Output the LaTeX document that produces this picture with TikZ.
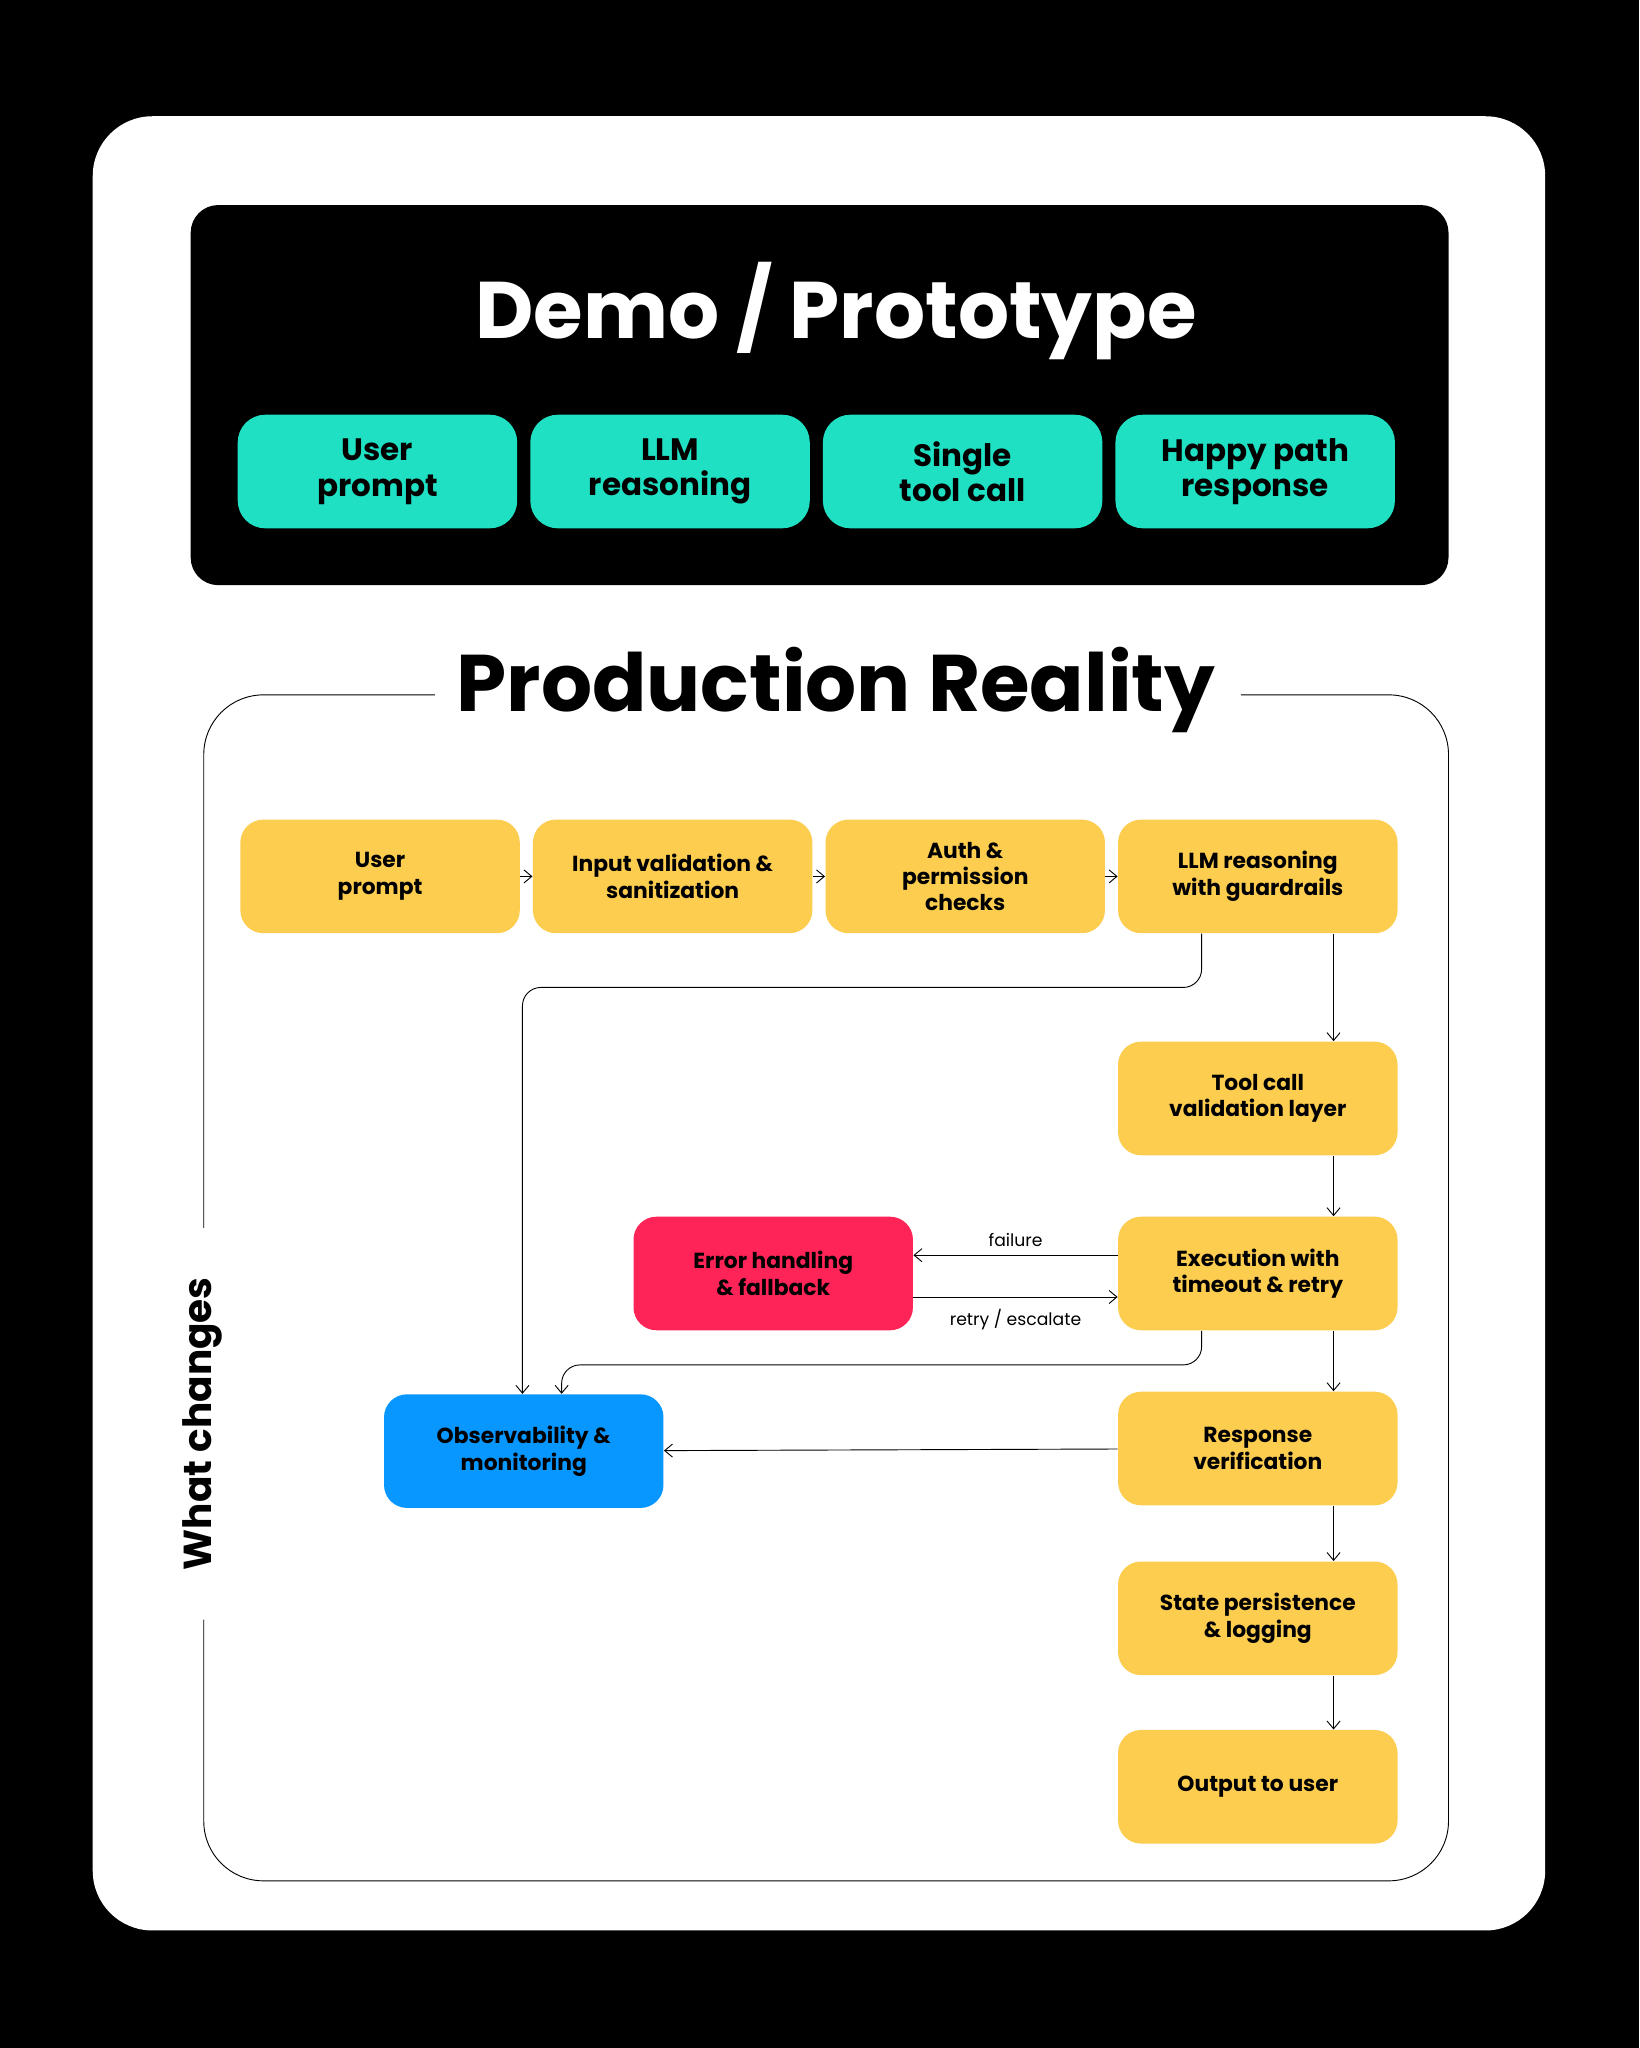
\documentclass[tikz,border=0pt]{standalone}
\usepackage{fontspec}
\setmainfont{Poppins}
\usetikzlibrary{arrows.meta}
\definecolor{mint}{HTML}{1FE0C3}
\definecolor{amber}{HTML}{FCCD4F}
\definecolor{alert}{HTML}{FF2458}
\definecolor{azure}{HTML}{0896FF}
\begin{document}
\begin{tikzpicture}[x=0.02cm, y=-0.02cm,
    demo/.style={rectangle, rounded corners=12pt, fill=mint, minimum width=4.28cm, minimum height=1.74cm, align=center, font=\fontsize{13.5}{15.5}\selectfont\bfseries},
    stage/.style={rectangle, rounded corners=10pt, fill=amber, minimum width=4.28cm, minimum height=1.74cm, align=center, font=\fontsize{9.5}{11.5}\selectfont\bfseries},
    arrow/.style={-{Straight Barb[length=1.2mm,width=2mm]}, thin},
    tag/.style={font=\fontsize{7.5}{9}\selectfont}
]
    % Frames
    \fill[black] (0,0) rectangle (1255,1568);
    \fill[white, rounded corners=26pt] (71,89) rectangle (1183,1478);
    \fill[black, rounded corners=12pt] (146,157) rectangle (1109,448);
    \node[font=\fontsize{35}{40}\selectfont\bfseries, text=white] (demotitle) at (640,238) {Demo / Prototype};

    % Demo row
    \node[demo] (d1) at (289,361) {User\\prompt};
    \node[demo] (d2) at (513,361) {LLM\\reasoning};
    \node[demo] (d3) at (737,361) {Single\\tool call};
    \node[demo] (d4) at (961,361) {Happy path\\response};

    % Production frame
    \draw[thin, rounded corners=26pt] (333,532) -- (156,532) -- (156,940);
    \draw[thin, rounded corners=26pt] (156,1240) -- (156,1440) -- (1109,1440) -- (1109,532) -- (950,532);
    \node[font=\fontsize{35}{40}\selectfont\bfseries] (prodtitle) at (640,528) {Production Reality};
    \node[font=\fontsize{17}{20}\selectfont\bfseries, rotate=90] (changes) at (155,1090) {What changes};

    % Top row
    \node[stage] (user) at (291,671) {User\\prompt};
    \node[stage] (input) at (515,671) {Input validation \&\\sanitization};
    \node[stage] (auth) at (739,671) {Auth \&\\permission\\checks};
    \node[stage] (llm) at (963,671) {LLM reasoning\\with guardrails};

    % Right column
    \node[stage] (tool) at (963,841) {Tool call\\validation layer};
    \node[stage] (exec) at (963,975) {Execution with\\timeout \& retry};
    \node[stage] (resp) at (963,1109) {Response\\verification};
    \node[stage] (state) at (963,1239) {State persistence\\\& logging};
    \node[stage] (out) at (963,1368) {Output to user};

    % Side nodes
    \node[stage, fill=alert] (error) at (592,975) {Error handling\\\& fallback};
    \node[stage, fill=azure] (obs) at (401,1111) {Observability \&\\monitoring};

    \draw[arrow] (user) -- (input);
    \draw[arrow] (input) -- (auth);
    \draw[arrow] (auth) -- (llm);
    \draw[arrow] (llm.south -| 1021,0) -- (tool.north -| 1021,0);
    \draw[arrow] (tool.south -| 1021,0) -- (exec.north -| 1021,0);
    \draw[arrow] (exec.south -| 1021,0) -- (resp.north -| 1021,0);
    \draw[arrow] (resp.south -| 1021,0) -- (state.north -| 1021,0);
    \draw[arrow] (state.south -| 1021,0) -- (out.north -| 1021,0);
    \draw[arrow] (exec.west |- 0,961) -- node[tag, above] {failure} (error.east |- 0,961);
    \draw[arrow] (error.east |- 0,993) -- node[tag, below=2pt] {retry / escalate} (exec.west |- 0,993);
    \draw[arrow] (resp) -- (obs);
    \draw[arrow, rounded corners=8pt] (llm.south -| 920,0) -- (920,756) -- (400,756) -- (obs.north -| 400,0);
    \draw[arrow, rounded corners=8pt] (exec.south -| 920,0) -- (920,1045) -- (430,1045) -- (obs.north -| 430,0);
\end{tikzpicture}
\end{document}
